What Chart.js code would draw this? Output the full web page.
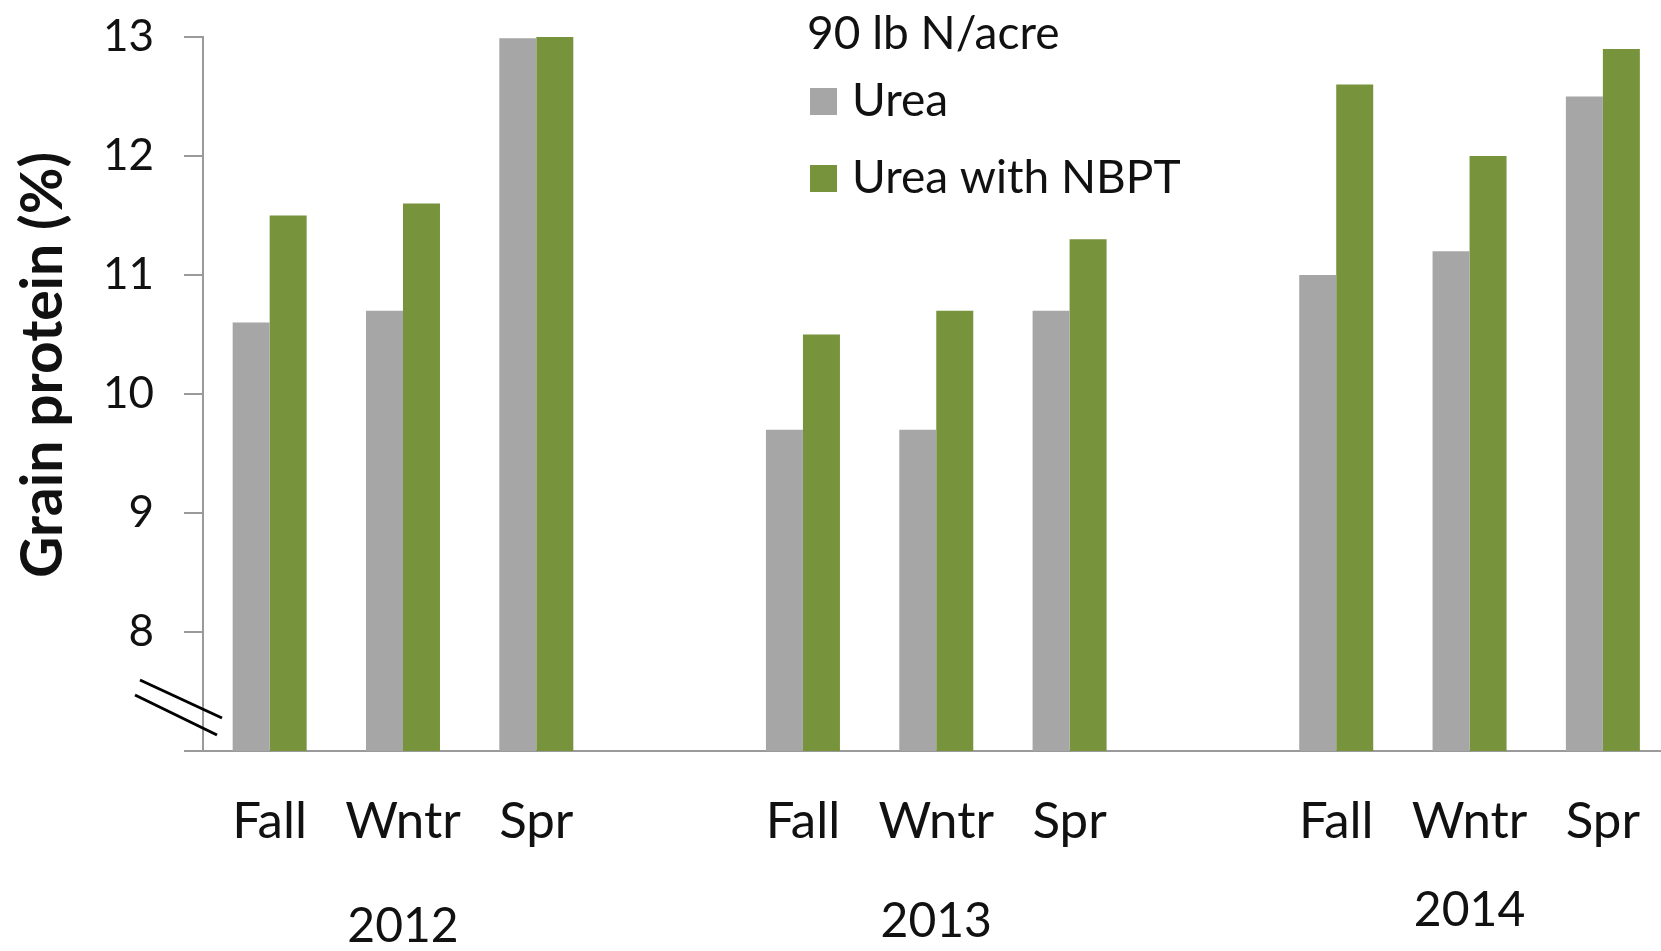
<!DOCTYPE html>
<html>
<head>
<meta charset="utf-8">
<script src="https://cdn.jsdelivr.net/npm/chart.js@4.4.0/dist/chart.umd.min.js"></script>
<style>
  html, body { margin: 0; padding: 0; background: #fff; overflow: hidden; }
  #wrap { width: 1661px; height: 951px; overflow: hidden; position: relative; }
  canvas { position: absolute; left: 0; top: 0; }
</style>
</head>
<body>
<div id="wrap"><canvas id="chart" width="1680" height="951"></canvas></div>
<script>
// categories (blank slots separate the years)
const categories = ["Fall", "Wntr", "Spr", "", "Fall", "Wntr", "Spr", "", "Fall", "Wntr", "Spr"];
const urea = [10.6, 10.7, 12.99, null, 9.7, 9.7, 10.7, null, 11.0, 11.2, 12.5];
const ureaNbpt = [11.5, 11.6, 13.0, null, 10.5, 10.7, 11.3, null, 12.6, 12.0, 12.9];
const years = ["2012", "2013", "2014"];
const yearAt = ["Wntr", "Wntr", "Wntr"];
const yTicks = [8, 9, 10, 11, 12, 13];

const axisColor = "#9a9a9a";
const textColor = "#111";
const yearDrop = [176, 171, 160];

const extras = {
  id: "extras",
  afterDraw(chart) {
    const ctx = chart.ctx;
    const area = chart.chartArea;
    const x = chart.scales.x;
    ctx.save();
    ctx.fillStyle = textColor;

    // y title
    ctx.save();
    ctx.translate(44, 365);
    ctx.rotate(-Math.PI / 2);
    ctx.font = "bold 57px Lato";
    ctx.textAlign = "center";
    ctx.textBaseline = "middle";
    ctx.fillText("Grain protein (%)", 0, 0);
    ctx.restore();

    // year labels under each group
    ctx.font = "48px Lato";
    ctx.textAlign = "center";
    ctx.textBaseline = "middle";
    let from = 0;
    years.forEach((yr, i) => {
      const idx = categories.indexOf(yearAt[i], from);
      from = idx + 1;
      ctx.fillText(yr, x.getPixelForValue(idx), area.bottom + yearDrop[i]);
    });

    // legend
    ctx.textAlign = "left";
    ctx.font = "46px Lato";
    ctx.fillText("90 lb N/acre", 807, 34);
    chart.data.datasets.forEach((ds, i) => {
      const cy = 101 + i * 77;
      ctx.fillStyle = ds.backgroundColor;
      ctx.fillRect(810, cy - 13, 27, 27);
      ctx.fillStyle = textColor;
      ctx.fillText(ds.label, 852, cy);
    });

    // axis break marks
    ctx.strokeStyle = "#000";
    ctx.lineWidth = 3;
    ctx.beginPath();
    ctx.moveTo(area.left - 63, area.bottom - 71);
    ctx.lineTo(area.left + 19, area.bottom - 33);
    ctx.moveTo(area.left - 68, area.bottom - 56);
    ctx.lineTo(area.left + 14, area.bottom - 16);
    ctx.stroke();
    ctx.restore();
  }
};

new Chart(document.getElementById("chart"), {
  type: "bar",
  data: {
    labels: categories,
    datasets: [
      { label: "Urea", data: urea, backgroundColor: "#a6a6a6" },
      { label: "Urea with NBPT", data: ureaNbpt, backgroundColor: "#77933c" }
    ]
  },
  options: {
    responsive: false,
    animation: false,
    layout: { padding: { top: 37, left: 0, right: 0, bottom: 0 } },
    datasets: { bar: { barPercentage: 1.0, categoryPercentage: 0.555 } },
    plugins: { legend: { display: false }, tooltip: { enabled: false } },
    scales: {
      x: {
        grid: { display: false, drawTicks: false },
        border: { display: true, color: axisColor, width: 2 },
        ticks: { font: { family: "Lato", size: 51 }, color: textColor, padding: 40, maxRotation: 0, autoSkip: false },
        afterFit(scale) { scale.height = 200; }
      },
      y: {
        min: 7,
        max: 13,
        afterBuildTicks(scale) { scale.ticks = [7].concat(yTicks).map(v => ({ value: v })); },
        grid: { drawOnChartArea: false, drawTicks: true, tickLength: 19, color: axisColor, lineWidth: 2 },
        border: { display: true, color: axisColor, width: 2 },
        ticks: {
          font: { family: "Lato", size: 44, lineHeight: 0.2 },
          color: textColor,
          padding: 30,
          callback: v => (v === 7 ? "" : v)
        },
        afterFit(scale) { scale.width = 203; }
      }
    }
  },
  plugins: [extras]
});
</script>
</body>
</html>
